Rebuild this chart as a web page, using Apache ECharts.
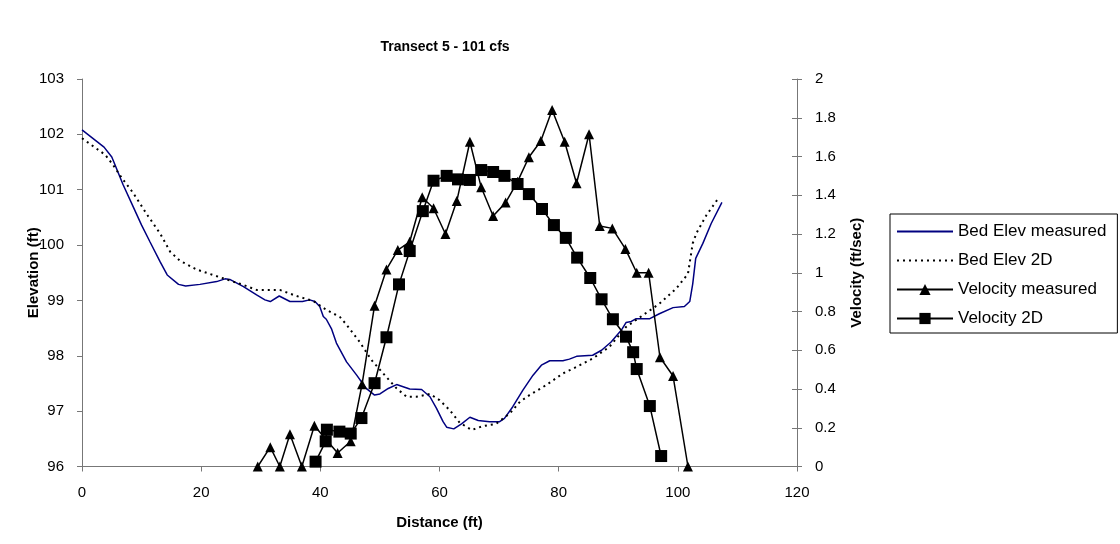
<!DOCTYPE html>
<html>
<head>
<meta charset="utf-8">
<script src="https://cdn.jsdelivr.net/npm/echarts@6/dist/echarts.min.js"></script>
<style>
html,body{margin:0;padding:0;background:#fff;}
#chart{width:1120px;height:544px;}
</style>
</head>
<body>
<div id="chart"></div>
<script>
// ---- Data ----
const bedMeasuredDist = [0,3.7,5.0,5.5,6.9,8.6,10.0,11.4,13.1,14.3,16.2,17.4,19.8,22.6,24.0,24.8,27.1,29.3,30.7,31.6,33.1,34.9,37.0,38.2,39.1,39.9,40.5,41.0,41.9,42.7,44.4,46.1,47.7,49.1,50.0,51.4,52.8,55.0,57.0,58.4,59.5,60.6,61.2,62.4,63.7,65.1,66.5,68.4,70.1,70.9,72.3,74.0,75.7,77.1,78.5,80.7,81.8,83.0,85.7,87.2,88.8,90.5,91.3,92.2,93.0,95.3,96.9,99.2,101.1,102.0,102.5,103.0,104.2,105.6,107.4];
const bedMeasuredElev = [102.08,101.77,101.59,101.46,101.09,100.69,100.36,100.06,99.70,99.46,99.29,99.26,99.29,99.34,99.39,99.38,99.25,99.10,99.01,98.98,99.08,98.98,98.98,99.01,98.98,98.89,98.71,98.66,98.48,98.23,97.89,97.65,97.41,97.29,97.31,97.41,97.48,97.40,97.39,97.26,97.05,96.81,96.71,96.68,96.77,96.89,96.83,96.81,96.81,96.87,97.08,97.38,97.65,97.83,97.91,97.91,97.94,97.99,98.01,98.10,98.25,98.46,98.60,98.62,98.67,98.67,98.76,98.87,98.89,98.98,99.30,99.76,100.03,100.39,100.77];

const bed2DDist = [0,3.9,5.2,6.7,8.6,10.8,13.1,14.8,16.4,19.2,22.0,24.8,27.1,29.3,33.2,36.0,38.8,41.0,43.3,44.4,46.6,48.6,50.8,52.8,54.5,56.1,58.4,60.0,61.7,63.4,65.4,67.3,69.5,71.8,73.5,75.1,77.9,80.7,83.0,85.7,88.5,91.3,94.1,96.9,99.7,101.7,102.5,103.1,104.8,106.9];
const bed2DElev = [101.93,101.63,101.45,101.21,100.94,100.57,100.21,99.88,99.72,99.56,99.46,99.36,99.28,99.19,99.19,99.08,98.99,98.83,98.70,98.56,98.25,97.92,97.65,97.41,97.26,97.26,97.31,97.20,97.02,96.79,96.66,96.73,96.77,96.96,97.17,97.29,97.47,97.68,97.80,97.95,98.16,98.52,98.73,98.94,99.21,99.48,100.03,100.21,100.54,100.86];

const velMeasuredDist = [29.5,31.6,33.2,34.9,36.9,39.0,42.9,45.1,47.0,49.1,51.1,53.0,55.0,57.1,59.0,61.0,62.9,65.1,67.0,69.0,71.1,73.1,75.0,77.0,78.9,81.0,83.0,85.1,86.9,89.0,91.2,93.1,95.1,97.0,99.2,101.7];
const velMeasured = [0,0.10,0,0.166,0,0.21,0.07,0.13,0.424,0.83,1.017,1.117,1.16,1.39,1.333,1.2,1.37,1.676,1.441,1.293,1.362,1.47,1.596,1.68,1.84,1.676,1.462,1.715,1.241,1.229,1.123,1.0,1.0,0.564,0.467,0];

const vel2DDist = [39.2,40.9,41.1,43.2,45.1,46.9,49.1,51.1,53.2,55.0,57.2,59.0,61.2,63.1,65.1,67.0,69.0,70.9,73.1,75.0,77.2,79.2,81.2,83.1,85.3,87.2,89.1,91.3,92.5,93.1,95.3,97.2];
const vel2D = [0.025,0.13,0.19,0.18,0.17,0.25,0.43,0.667,0.94,1.112,1.318,1.475,1.5,1.482,1.479,1.53,1.52,1.5,1.458,1.406,1.329,1.246,1.18,1.078,0.973,0.863,0.76,0.67,0.59,0.503,0.312,0.054];

const seriesNames = ['Bed Elev measured','Bed Elev 2D','Velocity measured','Velocity 2D'];
const xTicks = [0,20,40,60,80,100,120];
const elevTicks = [96,97,98,99,100,101,102,103];
const velTicks = [0,0.2,0.4,0.6,0.8,1,1.2,1.4,1.6,1.8,2];

const zip = (a,b) => a.map((v,i) => [v,b[i]]);
const FONT = 'Liberation Sans, Arial, sans-serif';
const AXIS_COLOR = '#777777';
const GRID = {left: 82, right: 323, top: 79, bottom: 77.5};
const GRID_WIDTH = 1120 - GRID.left - GRID.right;

const chart = echarts.init(document.getElementById('chart'), null, {renderer:'canvas'});
chart.setOption({
  animation: false,
  backgroundColor: '#ffffff',
  title: {
    text: 'Transect 5 - 101 cfs',
    left: 440, top: 35, textAlign: 'center',
    textStyle: {fontFamily: FONT, fontSize: 14, fontWeight: 'bold', color: '#000'}
  },
  grid: Object.assign({containLabel: false, outerBoundsMode: 'none'}, GRID),
  legend: {
    orient: 'vertical', left: 890, top: 214,
    borderColor: '#000', borderWidth: 1,
    padding: [9, 11, 6, 6],
    itemWidth: 56, itemHeight: 14, itemGap: 12,
    textStyle: {fontFamily: FONT, fontSize: 17, color: '#000'},
    data: [
      {name: seriesNames[0], itemStyle: {opacity: 0}},
      {name: seriesNames[1], itemStyle: {opacity: 0}},
      {name: seriesNames[2]},
      {name: seriesNames[3]}
    ]
  },
  xAxis: {
    type: 'value', min: xTicks[0], max: xTicks[xTicks.length-1], interval: 20,
    name: 'Distance (ft)', nameLocation: 'middle', nameGap: 49,
    nameTextStyle: {fontFamily: FONT, fontSize: 15, fontWeight: 'bold', color: '#000'},
    axisLine: {show: true, onZero: false, lineStyle: {color: AXIS_COLOR, width: 1}},
    axisTick: {show: true, length: 5, lineStyle: {color: AXIS_COLOR}},
    axisLabel: {fontFamily: FONT, fontSize: 15, color: '#000', margin: 19},
    splitLine: {show: false}
  },
  yAxis: [
    {
      type: 'value', position: 'left', min: elevTicks[0], max: elevTicks[elevTicks.length-1], interval: 1,
      name: 'Elevation (ft)', nameLocation: 'middle', nameGap: 41, nameMoveOverlap: false,
      nameTextStyle: {fontFamily: FONT, fontSize: 15, fontWeight: 'bold', color: '#000'},
      axisLine: {show: true, onZero: false, lineStyle: {color: AXIS_COLOR, width: 1}},
      axisTick: {show: true, length: 5, lineStyle: {color: AXIS_COLOR}},
      axisLabel: {fontFamily: FONT, fontSize: 15, color: '#000', margin: 18},
      splitLine: {show: false}
    },
    {
      type: 'value', position: 'right', min: velTicks[0], max: velTicks[velTicks.length-1], interval: 0.2,
      name: 'Velocity (ft/sec)', nameLocation: 'middle', nameGap: 52,
      nameTextStyle: {fontFamily: FONT, fontSize: 15, fontWeight: 'bold', color: '#000'},
      axisLine: {show: true, onZero: false, lineStyle: {color: AXIS_COLOR, width: 1}},
      axisTick: {show: true, length: 5, lineStyle: {color: AXIS_COLOR}},
      axisLabel: {fontFamily: FONT, fontSize: 15, color: '#000', margin: 18},
      splitLine: {show: false}
    },
    {
      // inner half of the crossing ticks on the right axis (a left-side axis shifted onto the right edge)
      type: 'value', position: 'left', offset: -GRID_WIDTH,
      min: velTicks[0], max: velTicks[velTicks.length-1], interval: 0.2,
      axisLine: {show: false},
      axisTick: {show: true, inside: false, length: 5, lineStyle: {color: AXIS_COLOR}},
      axisLabel: {show: false},
      splitLine: {show: false}
    }
  ],
  series: [
    {
      name: seriesNames[0], type: 'line', yAxisIndex: 0,
      data: zip(bedMeasuredDist, bedMeasuredElev),
      symbol: 'none', smooth: false,
      lineStyle: {color: '#000080', width: 1.5},
      itemStyle: {color: '#000080'}
    },
    {
      name: seriesNames[1], type: 'line', yAxisIndex: 0,
      data: zip(bed2DDist, bed2DElev),
      symbol: 'none',
      lineStyle: {color: '#000', width: 2, type: [2, 4]},
      itemStyle: {color: '#000'}
    },
    {
      name: seriesNames[2], type: 'line', yAxisIndex: 1,
      data: zip(velMeasuredDist, velMeasured),
      symbol: 'triangle', symbolSize: 10, showSymbol: true,
      lineStyle: {color: '#000', width: 1.5},
      itemStyle: {color: '#000'}
    },
    {
      name: seriesNames[3], type: 'line', yAxisIndex: 1,
      data: zip(vel2DDist, vel2D),
      symbol: 'rect', symbolSize: 12, showSymbol: true,
      lineStyle: {color: '#000', width: 1.5},
      itemStyle: {color: '#000'}
    }
  ]
});
</script>
</body>
</html>
